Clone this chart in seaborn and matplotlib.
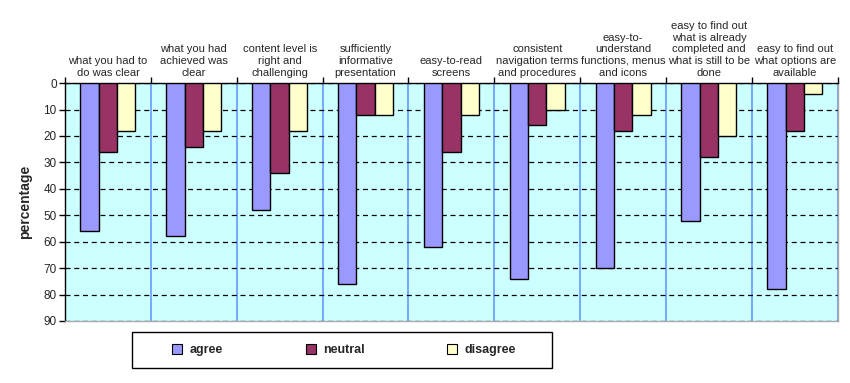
import numpy as np
import pandas as pd
import matplotlib
matplotlib.use('Agg')
import matplotlib.pyplot as plt
import seaborn as sns
from matplotlib.patches import Rectangle
from matplotlib.ticker import FixedLocator

# survey items and responses (percent)
items = ['what you had to\ndo was clear',
         'what you had\nachieved was\nclear',
         'content level is\nright and\nchallenging',
         'sufficiently\ninformative\npresentation',
         'easy-to-read\nscreens',
         'consistent\nnavigation terms\nand procedures',
         'easy-to-\nunderstand\nfunctions, menus\nand icons',
         'easy to find out\nwhat is already\ncompleted and\nwhat is still to be\ndone',
         'easy to find out\nwhat options are\navailable']
agree = [56, 58, 48, 76, 62, 74, 70, 52, 78]
neutral = [26, 24, 34, 12, 26, 16, 18, 28, 18]
disagree = [18, 18, 18, 12, 12, 10, 12, 20, 4]
yticks = [0, 10, 20, 30, 40, 50, 60, 70, 80, 90]

responses = ['agree', 'neutral', 'disagree']
colors = ['#9999ff', '#993366', '#ffffcc']

df = pd.DataFrame({'item': items * 3,
                   'response': np.repeat(responses, len(items)),
                   'value': agree + neutral + disagree})

sns.set_style('white')
plt.rcParams['font.family'] = ['Liberation Sans', 'DejaVu Sans']

fig = plt.figure(figsize=(8.5, 3.83), dpi=100)
ax = fig.add_axes([0.0765, 0.162, 0.909, 0.621])
ax.set_facecolor('#ccffff')

sns.barplot(data=df, x='item', y='value', hue='response', order=items,
            hue_order=responses, palette=colors, saturation=1, width=0.64,
            gap=0, edgecolor='black', linewidth=1, ax=ax, zorder=3)

ax.set_ylim(90, 0)
ax.set_xlim(-0.5, len(items) - 0.5)
ax.set_yticks(yticks)
ax.tick_params(axis='y', labelsize=8.5, length=4, width=1, color='black',
               direction='out', left=True, pad=2)

# category labels on the top axis
ax.xaxis.tick_top()
ax.set_xticks(range(len(items)))
ax.set_xticklabels(items, fontsize=8, linespacing=1.2)
ax.xaxis.set_minor_locator(FixedLocator(np.arange(-0.5, len(items), 1)))
ax.tick_params(axis='x', which='major', length=0, pad=4)
ax.tick_params(axis='x', which='minor', length=4, width=1, color='black', top=True)

ax.yaxis.grid(True, linestyle=(0, (4, 3)), color='black', linewidth=0.9, zorder=1)
ax.xaxis.grid(True, which='minor', color='#6699ff', linewidth=1.2, zorder=1)
ax.xaxis.grid(False, which='major')
ax.set_axisbelow(True)

for s in ['left', 'top']:
    ax.spines[s].set_color('black')
    ax.spines[s].set_linewidth(1)
for s in ['right', 'bottom']:
    ax.spines[s].set_color('#aaaaaa')
    ax.spines[s].set_linewidth(1)

ax.set_xlabel('')
ax.set_ylabel('percentage', fontsize=10, fontweight='bold', labelpad=8)

# legend box below the plot
fig.patches.append(Rectangle((0.155, 0.039), 0.494, 0.094, fill=False,
                             edgecolor='black', linewidth=1,
                             transform=fig.transFigure))
leg = fig.legend(*ax.get_legend_handles_labels(), loc='center',
                 bbox_to_anchor=(0.405, 0.086), bbox_transform=fig.transFigure,
                 ncol=3, frameon=False, prop={'size': 9, 'weight': 'bold'},
                 handlelength=0.8, handleheight=0.9, handletextpad=0.6,
                 columnspacing=6.6)
ax.get_legend().remove()
for h in leg.legend_handles:
    h.set_edgecolor('black')
    h.set_linewidth(0.8)

fig.savefig('out.png', dpi=100)
